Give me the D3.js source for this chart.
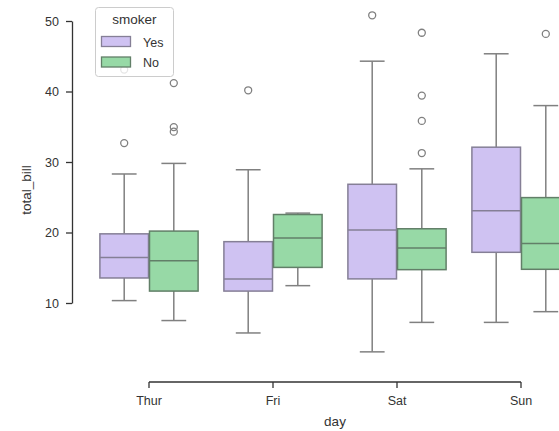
<!DOCTYPE html>
<html>
<head>
<meta charset="utf-8">
<script src="https://d3js.org/d3.v7.min.js"></script>
<style>
  body { margin: 0; background: #fff; }
  text { font-family: "Liberation Sans", Arial, sans-serif; fill: #333; }
</style>
</head>
<body>
<div id="chart"></div>
<script>
// categories
const days = ["Thur", "Fri", "Sat", "Sun"];
const smokers = ["Yes", "No"];

// box stats, one entry per day x smoker (Thur Yes, Thur No, Fri Yes, ...)
const whiskerLo = [10.34, 7.51, 5.75, 12.46, 3.07, 7.25, 7.25, 8.77];
const q1        = [13.55, 11.69, 11.69, 15.05, 13.42, 14.73, 17.19, 14.78];
const median    = [16.45, 16.0, 13.42, 19.23, 20.37, 17.8, 23.07, 18.45];
const q3        = [19.81, 20.2, 18.7, 22.55, 26.84, 20.53, 32.1, 24.95];
const whiskerHi = [28.3, 29.8, 28.9, 22.75, 44.3, 29.03, 45.35, 38.0];
const outliers  = [[32.68, 43.11], [41.19, 34.95, 34.3], [40.17], [], [50.81],
                   [48.33, 39.42, 35.83, 31.27], [], [48.17]];

const yTicks = [10, 20, 30, 40, 50];

const fills = { Yes: "#cfc2f2", No: "#97d9a6" };
const edges = { Yes: "#857f96", No: "#627f68" };
const lineGray = "#808080";

const W = 559, H = 431;
const svg = d3.select("#chart").append("svg")
  .attr("width", W).attr("height", H);

const x = d3.scaleBand().domain(days).range([87, 583]).padding(0);
const xHue = d3.scaleBand().domain(smokers).range([0, x.bandwidth()])
  .paddingInner(0).paddingOuter(0.25);
const y = d3.scaleLinear().domain([10, 50]).range([303, 21]);

// rows for drawing
const rows = [];
days.forEach((d, i) => smokers.forEach((s, j) => {
  const k = i * 2 + j;
  rows.push({ day: d, smoker: s, lo: whiskerLo[k], q1: q1[k], med: median[k],
              q3: q3[k], hi: whiskerHi[k], out: outliers[k] });
}));

const g = svg.append("g");
const box = g.selectAll("g.box").data(rows).join("g")
  .attr("transform", d => `translate(${x(d.day) + xHue(d.smoker)},0)`);
const bw = xHue.bandwidth();

// whiskers
box.append("line").attr("x1", bw / 2).attr("x2", bw / 2)
  .attr("y1", d => y(d.q3)).attr("y2", d => y(d.hi))
  .attr("stroke", lineGray).attr("stroke-width", 1.5);
box.append("line").attr("x1", bw / 2).attr("x2", bw / 2)
  .attr("y1", d => y(d.q1)).attr("y2", d => y(d.lo))
  .attr("stroke", lineGray).attr("stroke-width", 1.5);
// caps
[d => y(d.hi), d => y(d.lo)].forEach(f => {
  box.append("line").attr("x1", bw / 4).attr("x2", bw * 3 / 4)
    .attr("y1", f).attr("y2", f)
    .attr("stroke", lineGray).attr("stroke-width", 1.5);
});
// box
box.append("rect")
  .attr("x", 0.5).attr("width", bw - 1)
  .attr("y", d => y(d.q3)).attr("height", d => y(d.q1) - y(d.q3))
  .attr("fill", d => fills[d.smoker])
  .attr("stroke", d => edges[d.smoker]).attr("stroke-width", 1.5);
// median
box.append("line").attr("x1", 0.5).attr("x2", bw - 0.5)
  .attr("y1", d => y(d.med)).attr("y2", d => y(d.med))
  .attr("stroke", d => edges[d.smoker]).attr("stroke-width", 1.5);
// fliers
box.selectAll("circle").data(d => d.out).join("circle")
  .attr("cx", bw / 2).attr("cy", v => y(v)).attr("r", 3.5)
  .attr("fill", "none").attr("stroke", lineGray).attr("stroke-width", 1.3);

// y axis (trimmed, offset)
const yAxis = svg.append("g").attr("transform", "translate(72,0)")
  .call(d3.axisLeft(y).tickValues(yTicks).tickSize(6).tickSizeOuter(0).tickPadding(7));
yAxis.select(".domain").attr("stroke", "#333").attr("stroke-width", 1.3);
yAxis.selectAll(".tick line").attr("stroke", "#333").attr("stroke-width", 1.3);
yAxis.selectAll(".tick text").attr("font-size", 12.5).attr("fill", "#333")
  .style("font-family", '"Liberation Sans", Arial, sans-serif');

// x axis (trimmed, offset)
const xAxis = svg.append("g").attr("transform", "translate(0,382)")
  .call(d3.axisBottom(x).tickSize(6).tickSizeOuter(0).tickPadding(8));
xAxis.select(".domain").remove();
xAxis.append("line")
  .attr("x1", x(days[0]) + x.bandwidth() / 2)
  .attr("x2", x(days[days.length - 1]) + x.bandwidth() / 2)
  .attr("stroke", "#333").attr("stroke-width", 1.3);
xAxis.selectAll(".tick line").attr("stroke", "#333").attr("stroke-width", 1.3);
xAxis.selectAll(".tick text").attr("font-size", 12.5).attr("fill", "#333")
  .style("font-family", '"Liberation Sans", Arial, sans-serif');

// axis labels
svg.append("text").attr("x", 335).attr("y", 426).attr("text-anchor", "middle")
  .attr("font-size", 13.5).text("day");
svg.append("text").attr("transform", "translate(31,190) rotate(-90)")
  .attr("text-anchor", "middle").attr("font-size", 13.5).text("total_bill");

// legend
const lg = svg.append("g");
lg.append("rect").attr("x", 95.5).attr("y", 7.5).attr("width", 78).attr("height", 69)
  .attr("rx", 3).attr("fill", "#fff").attr("fill-opacity", 0.8)
  .attr("stroke", "#ccc").attr("stroke-width", 1);
lg.append("text").attr("x", 134.5).attr("y", 24).attr("text-anchor", "middle")
  .attr("font-size", 13.5).text("smoker");
smokers.forEach((s, i) => {
  lg.append("rect").attr("x", 101.5).attr("y", 36.5 + i * 20.5)
    .attr("width", 29).attr("height", 10)
    .attr("fill", fills[s]).attr("stroke", edges[s]).attr("stroke-width", 1.3);
  lg.append("text").attr("x", 143).attr("y", 46.5 + i * 20.5)
    .attr("font-size", 12.5).text(s);
});
</script>
</body>
</html>
